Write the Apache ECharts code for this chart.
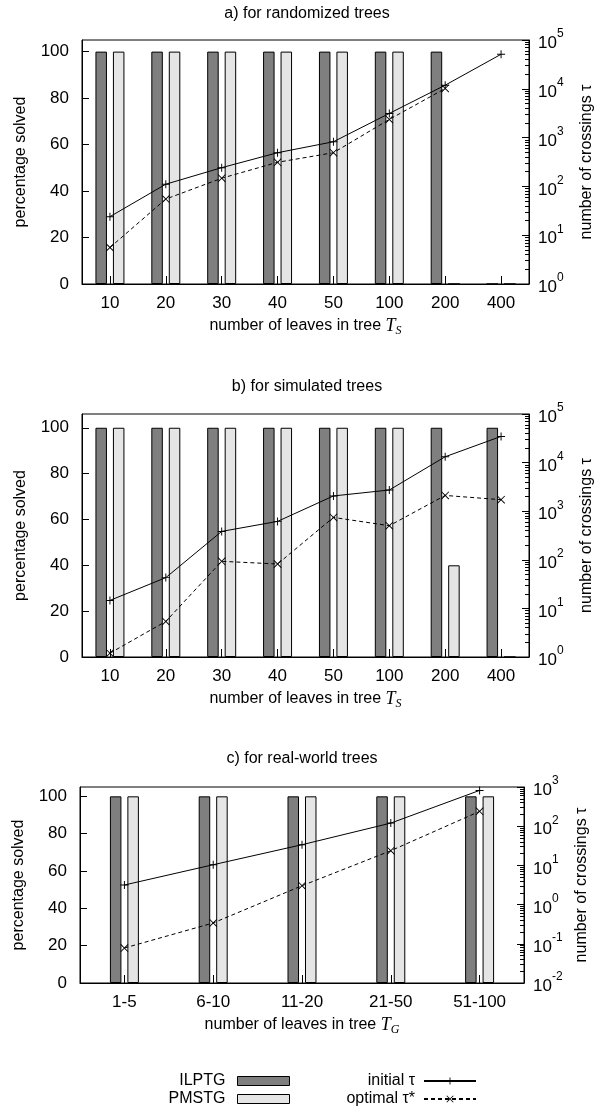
<!DOCTYPE html>
<html><head><meta charset="utf-8">
<script src="https://cdn.jsdelivr.net/npm/echarts@6/dist/echarts.min.js"></script>
<style>html,body{margin:0;padding:0;background:#fff}#c{width:603px;height:1113px}</style>
</head><body><div id="c"></div>
<script>
// ---- data ----
const catsTS = ['10','20','30','40','50','100','200','400'];
const catsTG = ['1-5','6-10','11-20','21-50','51-100'];
const pctTicks = [0,20,40,60,80,100];
// a) randomized trees
const aILP  = [100,100,100,100,100,100,100,0];
const aPMS  = [100,100,100,100,100,100,0,0];
const aInit = [24,111,242,490,822,3130,11860,51000];
const aOpt  = [5.6,55,147,312,490,2360,10150,null];
// b) simulated trees
const bILP  = [100,100,100,100,100,100,100,100];
const bPMS  = [100,100,100,100,100,100,40,0];
const bInit = [14.6,43,384,617,2060,2730,13200,34600];
const bOpt  = [1.2,5.4,93,82,745,503,2110,1725];
// c) real-world trees
const cILP  = [100,100,100,100,100];
const cPMS  = [100,100,100,100,100];
const cInit = [3.16,10.4,33.7,120,818];
const cOpt  = [0.078,0.34,3.03,23.7,239];

// ---- style ----
const FONT = "'Liberation Sans', Arial, Helvetica, sans-serif";
const SERIF = "'Liberation Serif', 'DejaVu Serif', serif";
const FS = 16;
const TFS = 17;
const PLUS = 'path://M0,4.4H10V5.6H0Z M4.4,0H5.6V10H4.4Z';
const CROSS = 'path://M0,0.8L0.8,0L10,9.2L9.2,10Z M9.2,0L10,0.8L0.8,10L0,9.2Z';
const supRich = {
  b:{fontSize:TFS,fontFamily:FONT,color:'#000',lineHeight:24,verticalAlign:'bottom'},
  s:{fontSize:12,fontFamily:FONT,color:'#000',lineHeight:12,verticalAlign:'top'}
};
function supLabel(v){ const e = Math.round(Math.log10(v)); return '{b|10}{s|' + e + '}'; }
function minorTicks(lo, hi){ const r=[]; for(let e=lo;e<hi;e++){ for(let k=2;k<=9;k++) r.push(+(k*Math.pow(10,e)).toPrecision(6)); } return r; }

const panels = [
  {title:'a) for randomized trees', tTop:6, grid:{left:82,top:40,width:450,height:244},
   cats:catsTS, ilp:aILP, pms:aPMS, init:aInit, opt:aOpt, pmax:105, lo:0, hi:5, sub:'S'},
  {title:'b) for simulated trees', tTop:379, grid:{left:82,top:414,width:450,height:243},
   cats:catsTS, ilp:bILP, pms:bPMS, init:bInit, opt:bOpt, pmax:106, lo:0, hi:5, sub:'S'},
  {title:'c) for real-world trees', tTop:751, grid:{left:80,top:787,width:444,height:196},
   cats:catsTG, ilp:cILP, pms:cPMS, init:cInit, opt:cOpt, pmax:105, lo:-2, hi:3, sub:'G'}
];

const option = {animation:false, backgroundColor:'#fff', title:[], grid:[], xAxis:[], yAxis:[], series:[]};
const txt = {fontSize:FS, fontFamily:FONT, color:'#000'};
const tick = {fontSize:TFS, fontFamily:FONT, color:'#000'};

panels.forEach((p,i)=>{
  option.title.push({text:p.title, left:p.grid.left + p.grid.width/2, textAlign:'center', top:p.tTop, padding:0,
    textStyle:{fontSize:FS, fontFamily:FONT, color:'#000', fontWeight:'normal'}});
  option.grid.push(Object.assign({show:true, borderColor:'#000', borderWidth:1, backgroundColor:'transparent', containLabel:false}, p.grid));
  option.xAxis.push({type:'category', gridIndex:i, data:p.cats,
    axisLine:{show:true, lineStyle:{color:'#000', width:1}},
    axisTick:{show:true, inside:true, length:8, alignWithLabel:true, interval:0, lineStyle:{color:'#000'}},
    axisLabel:Object.assign({margin:11, interval:0}, tick),
    name:'number of leaves in tree {t|T}{u|' + p.sub + '}', nameLocation:'middle', nameGap:31,
    nameTextStyle:Object.assign({lineHeight:22, rich:{
      t:{fontFamily:SERIF, fontStyle:'italic', fontSize:18, color:'#000', lineHeight:22},
      u:{fontFamily:SERIF, fontStyle:'italic', fontSize:12, color:'#000', lineHeight:12, verticalAlign:'bottom'}
    }}, txt)
  });
  // left percentage axis
  option.yAxis.push({type:'value', gridIndex:i, position:'left', min:0, max:p.pmax, interval:20,
    axisLine:{show:true, lineStyle:{color:'#000'}},
    axisTick:{show:true, inside:true, length:7, lineStyle:{color:'#000'}},
    axisLabel:Object.assign({margin:13, showMaxLabel:false, formatter:v=> pctTicks.indexOf(v)>=0 ? String(v) : ''}, tick),
    splitLine:{show:false},
    name:'percentage solved', nameLocation:'middle', nameGap:53, nameRotate:90, nameTextStyle:txt
  });
  // right log axis
  option.yAxis.push({type:'log', logBase:10, gridIndex:i, position:'right', min:Math.pow(10,p.lo), max:Math.pow(10,p.hi), splitNumber:5,
    axisLine:{show:true, lineStyle:{color:'#000'}},
    axisTick:{show:true, inside:true, length:7, lineStyle:{color:'#000'}},
    axisLabel:{margin:9, formatter:supLabel, rich:supRich, fontSize:TFS, fontFamily:FONT, color:'#000'},
    splitLine:{show:false},
    name:'number of crossings τ', nameLocation:'middle', nameGap:50, nameRotate:90, nameTextStyle:txt
  });
  // minor ticks of log axis
  option.yAxis.push({type:'log', logBase:10, gridIndex:i, position:'right', min:Math.pow(10,p.lo), max:Math.pow(10,p.hi),
    axisLine:{show:false}, axisLabel:{show:false}, splitLine:{show:false},
    axisTick:{show:true, inside:true, length:4, lineStyle:{color:'#000'}, customValues:minorTicks(p.lo,p.hi)}
  });
  const yb = 3*i;
  option.series.push(
    {type:'bar', name:'ILPTG', xAxisIndex:i, yAxisIndex:yb, data:p.ilp, barWidth:11.5, barGap:'52%',
     itemStyle:{color:'#7f7f7f', borderColor:'#000', borderWidth:1}},
    {type:'bar', name:'PMSTG', xAxisIndex:i, yAxisIndex:yb, data:p.pms, barWidth:11.5, barGap:'52%',
     itemStyle:{color:'#e5e5e5', borderColor:'#000', borderWidth:1}},
    {type:'line', name:'initial τ', xAxisIndex:i, yAxisIndex:yb+1, data:p.init, symbol:PLUS, symbolSize:8,
     lineStyle:{color:'#000', width:1}, itemStyle:{color:'#000'}, z:5},
    {type:'line', name:'optimal τ*', xAxisIndex:i, yAxisIndex:yb+1, data:p.opt, symbol:CROSS, symbolSize:8,
     lineStyle:{color:'#000', width:1, type:[4,3]}, itemStyle:{color:'#000'}, z:5}
  );
});

const legCommon = {orient:'horizontal', align:'right', itemWidth:52, itemHeight:9, itemGap:0, padding:0,
  textStyle:{fontSize:FS, fontFamily:FONT, color:'#000', padding:[0,7,0,0]}, selectedMode:false};
option.legend = [
  Object.assign({}, legCommon, {data:[{name:'ILPTG', icon:'rect'}], right:313, top:1073, itemStyle:{borderColor:'#000', borderWidth:1}}),
  Object.assign({}, legCommon, {data:[{name:'PMSTG', icon:'rect'}], right:313, top:1091, itemStyle:{borderColor:'#000', borderWidth:1}}),
  Object.assign({}, legCommon, {data:['initial τ'], right:126, top:1073, textStyle:Object.assign({}, legCommon.textStyle, {padding:[0,4,0,0]})}),
  Object.assign({}, legCommon, {data:['optimal τ*'], right:126, top:1091, textStyle:Object.assign({}, legCommon.textStyle, {padding:[0,4,0,0]})})
];

const chart = echarts.init(document.getElementById('c'), null, {renderer:'canvas'});
chart.setOption(option);
</script>
</body></html>
